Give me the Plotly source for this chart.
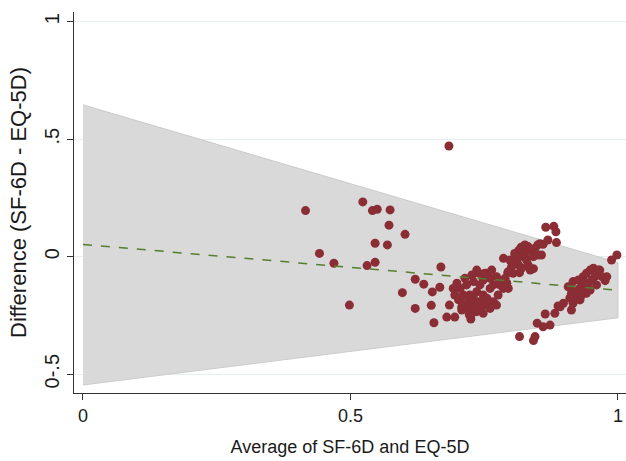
import plotly.graph_objects as go

# Bland-Altman data: average of SF-6D and EQ-5D vs difference (SF-6D - EQ-5D)
avg_scores = [
    0.416, 0.442, 0.469, 0.498, 0.523, 0.541, 0.550, 0.574, 0.572, 0.602,
    0.546, 0.569, 0.531, 0.546, 0.621, 0.637, 0.597, 0.621, 0.669, 0.653,
    0.667, 0.651, 0.656, 0.680, 0.695, 0.685, 0.708, 0.722, 0.725, 0.684,
    # dense cluster around 0.7-0.8
    0.705, 0.695, 0.702, 0.711, 0.717, 0.730, 0.742, 0.755, 0.767, 0.776,
    0.786, 0.792, 0.761, 0.742, 0.730, 0.717, 0.748, 0.767, 0.779, 0.736,
    0.723, 0.711, 0.705, 0.730, 0.755, 0.773, 0.761, 0.742, 0.720, 0.692,
    0.699, 0.714, 0.727, 0.736, 0.755, 0.773, 0.789, 0.748, 0.761, 0.795,
    0.736, 0.748, 0.708, 0.727,
    # cluster around 0.8-0.88
    0.865, 0.880, 0.884, 0.885, 0.869, 0.860, 0.857, 0.854, 0.850, 0.786,
    0.764, 0.798, 0.816, 0.842, 0.832, 0.826, 0.819, 0.814, 0.811, 0.817,
    0.823, 0.836, 0.842, 0.851, 0.807, 0.814, 0.801, 0.829, 0.820, 0.836,
    0.795, 0.823, 0.832, 0.845, 0.798, 0.807, 0.826, 0.842, 0.811, 0.804,
    0.786, 0.792, 0.779, 0.740, 0.751, 0.794,
    # cluster around 0.82-1
    0.816, 0.845, 0.842, 0.849, 0.860, 0.873, 0.864, 0.882, 0.892, 0.898,
    0.913, 0.910, 0.966, 0.976, 0.979, 0.988, 0.998, 0.916, 0.926, 0.935,
    0.941, 0.948, 0.954, 0.963, 0.920, 0.929, 0.938, 0.944, 0.951, 0.957,
    0.913, 0.923, 0.932, 0.941, 0.948, 0.916, 0.907, 0.929, 0.935, 0.960,
    0.970, 0.888,
]
diff_scores = [
    0.196, 0.014, -0.028, -0.206, 0.233, 0.196, 0.202, 0.199, 0.134, 0.095,
    0.057, 0.050, -0.038, -0.024, -0.096, -0.117, -0.153, -0.220, -0.044, -0.150,
    -0.130, -0.207, -0.281, -0.257, -0.257, -0.206, -0.215, -0.247, -0.265, 0.471,
    -0.135, -0.163, -0.184, -0.206, -0.220, -0.206, -0.192, -0.206, -0.192, -0.163,
    -0.135, -0.113, -0.135, -0.120, -0.106, -0.120, -0.163, -0.120, -0.106, -0.149,
    -0.163, -0.163, -0.177, -0.177, -0.177, -0.206, -0.220, -0.220, -0.192, -0.135,
    -0.113, -0.092, -0.078, -0.057, -0.071, -0.085, -0.092, -0.099, -0.092, -0.135,
    -0.234, -0.241, -0.227, -0.241,
    0.125, 0.129, 0.106, 0.060, 0.071, 0.053, 0.007, 0.055, 0.050, -0.007,
    -0.057, -0.064, -0.068, -0.051, -0.035, 0.050, 0.040, 0.026, 0.007, 0.000,
    0.014, 0.026, 0.014, 0.007, -0.014, -0.035, -0.043, -0.014, -0.049, -0.057,
    -0.064, 0.043, 0.043, 0.036, -0.014, 0.014, 0.000, 0.000, -0.028, -0.071,
    -0.128, -0.113, -0.120, -0.071, -0.071, -0.068,
    -0.340, -0.340, -0.357, -0.283, -0.298, -0.291, -0.244, -0.241, -0.213, -0.198,
    -0.227, -0.176, -0.057, -0.102, -0.085, -0.014, 0.007, -0.106, -0.099, -0.085,
    -0.071, -0.057, -0.049, -0.057, -0.142, -0.134, -0.128, -0.113, -0.099, -0.085,
    -0.156, -0.170, -0.163, -0.156, -0.142, -0.198, -0.128, -0.184, -0.113, -0.120,
    -0.085, -0.210,
]

# Limits of agreement band and regression line, evaluated at x = 0 and x = 1
band_x = [0, 1]
band_upper = [0.646, -0.025]
band_lower = [-0.546, -0.26]
fit_y = [0.052, -0.143]

y_tickvals = [1, 0.5, 0, -0.5]
y_ticktext = ["1", ".5", "0", "0-.5"]
x_tickvals = [0, 0.5, 1]
x_ticktext = ["0", "0.5", "1"]

fig = go.Figure()

fig.add_trace(go.Scatter(
    x=band_x + band_x[::-1],
    y=band_upper + band_lower[::-1],
    fill="toself",
    fillcolor="#D9D9D9",
    line=dict(color="#CBCBCB", width=1),
    mode="lines",
    hoverinfo="skip",
    showlegend=False,
))

fig.add_trace(go.Scatter(
    x=avg_scores, y=diff_scores,
    mode="markers",
    marker=dict(color="#8B2D35", size=9, line=dict(width=0)),
    showlegend=False,
))

fig.add_trace(go.Scatter(
    x=band_x, y=fit_y,
    mode="lines",
    line=dict(color="#557F2B", width=1.5, dash="dash"),
    showlegend=False,
))

font_family = "Liberation Sans, Arial, sans-serif"

fig.update_layout(
    width=626, height=461,
    margin=dict(l=74, r=0, t=12, b=68),
    paper_bgcolor="white",
    plot_bgcolor="white",
    font=dict(family=font_family, color="#1a1a1a", size=17),
    xaxis=dict(
        automargin=False,
        range=[-0.0168, 1.015],
        tickvals=x_tickvals, ticktext=x_ticktext,
        ticks="outside", ticklen=6, tickcolor="#333333",
        showgrid=False, zeroline=False,
        showline=True, linecolor="#333333", linewidth=1,
        tickfont=dict(size=18),
        title=dict(text="Average of SF-6D and EQ-5D", font=dict(size=18), standoff=15),
    ),
    yaxis=dict(
        automargin=False,
        range=[-0.58, 1.041],
        tickvals=y_tickvals, ticktext=y_ticktext,
        tickangle=-90,
        ticks="outside", ticklen=6, tickcolor="#333333",
        showgrid=True, gridcolor="#E6EFF0", gridwidth=1,
        zeroline=False,
        showline=True, linecolor="#333333", linewidth=1,
        tickfont=dict(size=20),
        title=dict(text="Difference (SF-6D - EQ-5D)", font=dict(size=22), standoff=8),
    ),
)

fig.write_html(
    "out.html",
    config={"displayModeBar": False},
    post_script="document.body.style.margin='0px';document.body.style.overflow='hidden';",
)
